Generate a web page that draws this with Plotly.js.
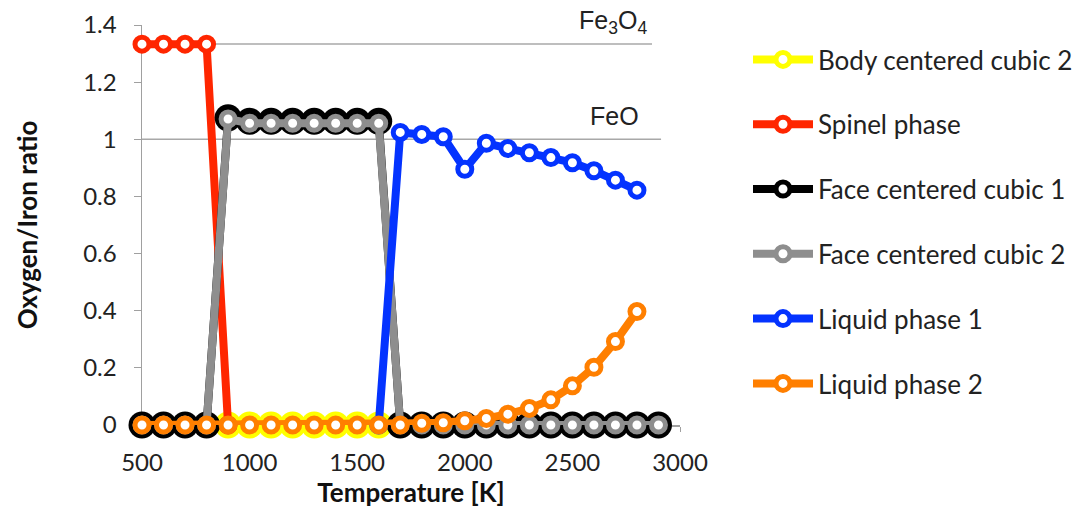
<!DOCTYPE html>
<html>
<head>
<meta charset="utf-8">
<script src="https://cdn.plot.ly/plotly-3.0.1.min.js"></script>
<style>html,body{margin:0;padding:0;background:#fff}#chart{width:1080px;height:508px}</style>
</head>
<body>
<div id="chart"></div>
<script>
// Temperature [K]
const temps = [500,600,700,800,900,1000,1100,1200,1300,1400,1500,1600,1700,1800,1900,2000,2100,2200,2300,2400,2500,2600,2700,2800,2900];
// Oxygen/Iron ratio per phase (null = phase absent)
const bcc2    = [null,null,null,null,0,0,0,0,0,0,0,0,null,null,null,null,null,null,null,null,null,null,null,null,null];
const spinel  = [1.333,1.333,1.333,1.333,0,null,null,null,null,null,null,null,null,null,null,null,null,null,null,null,null,null,null,null,null];
const fcc1    = [0,0,0,0,1.075,1.063,1.063,1.063,1.063,1.063,1.063,1.063,0,0,0,0,0,0,0,0,0,0,0,0,0];
const fcc2    = [0,0,0,0,1.071,1.056,1.056,1.056,1.056,1.056,1.056,1.056,0,0,0,0,0,0,0,0,0,0,0,0,0];
const liquid1 = [null,null,null,null,null,null,null,null,null,null,null,0,1.024,1.017,1.009,0.895,0.986,0.968,0.953,0.936,0.918,0.890,0.857,0.822,null];
const liquid2 = [0,0,0,0,0,0,0,0,0,0,0,0,0,0.006,0.008,0.015,0.023,0.038,0.058,0.088,0.137,0.202,0.292,0.397,null];

const names  = ['Body centered cubic 2','Spinel phase','Face centered cubic 1','Face centered cubic 2','Liquid phase 1','Liquid phase 2'];
const colors = ['#FFFF00','#FF2600','#000000','#8E8E8E','#0433FF','#FF7F00'];
const series = [bcc2, spinel, fcc1, fcc2, liquid1, liquid2];

// Reference lines
const refLevels = [1.3333, 1.0];
const refLabels = ['Fe<sub>3</sub>O<sub>4</sub>', 'FeO'];

const traces = [];
function halo(i){
  return {x: temps, y: series[i], type:'scatter', mode:'markers', showlegend:false, hoverinfo:'skip',
    cliponaxis:false, marker:{size:27, color:colors[i], line:{width:0}}};
}
series.forEach((s,i)=>{
  if (i===0 || i===2) traces.push(halo(i));
  traces.push({
    x: temps, y: s, name: names[i], type:'scatter', mode:'lines+markers', cliponaxis:false,
    legendgroup:'g'+i,
    line:{color:colors[i], width:8},
    marker:{symbol:'circle', size:14, color:'#ffffff', line:{color:colors[i], width:5}}
  });
});

const font = 'Lato, "Open Sans", sans-serif';
const annFont = {family:'"Liberation Sans", Arial, sans-serif', size:25, color:'#222222'};
const layout = {
  width:1080, height:508,
  margin:{l:142, r:400, t:25, b:83, autoexpand:false},
  paper_bgcolor:'#ffffff', plot_bgcolor:'#ffffff',
  font:{family:font, size:24, color:'#222222'},
  xaxis:{
    range:[500,3000], tickvals:[500,1000,1500,2000,2500,3000],
    showgrid:false, zeroline:false, showline:true, linecolor:'#A0A0A0', linewidth:1.5,
    ticks:'outside', ticklen:5, tickcolor:'#A0A0A0', ticklabelstandoff:11,
    layer:'below traces',
    tickfont:{family:font, size:24, color:'#222222'},
    title:{text:'Temperature [K]', standoff:8, font:{family:font, size:26, color:'#111111', weight:'bold'}}
  },
  yaxis:{
    range:[0,1.4], tickvals:[0,0.2,0.4,0.6,0.8,1,1.2,1.4],
    showgrid:false, zeroline:false, showline:true, linecolor:'#A0A0A0', linewidth:1.5,
    ticks:'outside', ticklen:7, tickcolor:'#A0A0A0', ticklabelstandoff:12,
    layer:'below traces',
    tickfont:{family:font, size:24, color:'#222222'},
    title:{text:'Oxygen/Iron ratio', standoff:38, font:{family:font, size:26, color:'#111111', weight:'bold'}}
  },
  shapes: refLevels.map((v,i)=>({type:'line', xref:'x', yref:'y', x0:500, x1: i===0 ? 2870 : 2912, y0:v, y1:v,
    line:{color:'#A8A8A8', width:1.5}, layer:'below'})),
  annotations: [
    {xref:'paper', yref:'paper', x:0.8755, y:1.0075, text:refLabels[0], showarrow:false, xanchor:'center', yanchor:'middle', font:annFont},
    {xref:'paper', yref:'paper', x:0.879, y:0.7725, text:refLabels[1], showarrow:false, xanchor:'center', yanchor:'middle', font:annFont}
  ],
  legend:{
    xref:'container', x:748/1080, y:1+(25-36)/400, xanchor:'left', yanchor:'top',
    traceorder:'grouped', tracegroupgap:28, itemwidth:60,
    font:{family:font, size:26, color:'#222222'}, bgcolor:'rgba(0,0,0,0)'
  },
  showlegend:true
};
Plotly.newPlot('chart', traces, layout, {displayModeBar:false, staticPlot:true});
</script>
</body>
</html>
